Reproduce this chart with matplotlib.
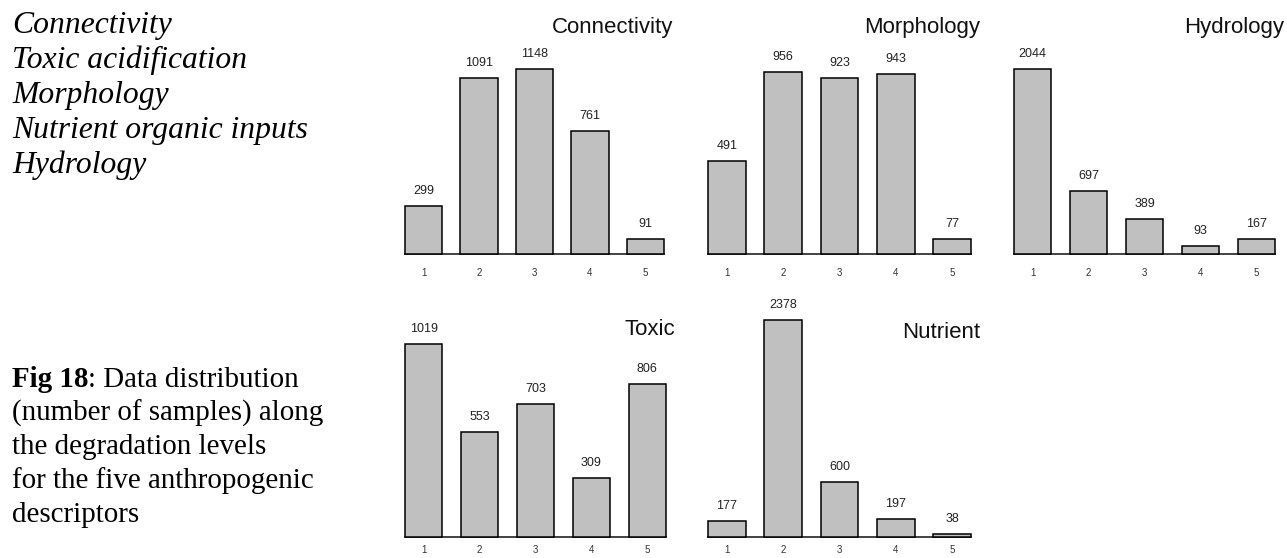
import matplotlib
matplotlib.use("Agg")
import matplotlib.pyplot as plt

# degradation levels and sample counts per descriptor
levels = [1, 2, 3, 4, 5]
connectivity = [299, 1091, 1148, 761, 91]
morphology = [491, 956, 923, 943, 77]
hydrology = [2044, 697, 389, 93, 167]
toxic = [1019, 553, 703, 309, 806]
nutrient = [177, 2378, 600, 197, 38]

panel_titles = ["Connectivity", "Morphology", "Hydrology", "Toxic", "Nutrient"]
panel_values = [connectivity, morphology, hydrology, toxic, nutrient]

legend_lines = ["Connectivity", "Toxic acidification", "Morphology",
                "Nutrient organic inputs", "Hydrology"]
caption_bold = "Fig 18"
caption_lines = [": Data distribution", "(number of samples) along",
                 "the degradation levels", "for the five anthropogenic",
                 "descriptors"]

W, H = 1287, 558
fig = plt.figure(figsize=(W / 100, H / 100), dpi=100)
fig.patch.set_facecolor("white")

# panel boxes in pixels: left, right, top of tallest bar, baseline, title baseline, tick pad
boxes = [
    (405, 664, 69, 254, 33, 10),
    (708, 971, 72, 254, 33, 10),
    (1014, 1275, 69, 254, 33, 10),
    (405, 666, 344, 537, 335, 5.5),
    (708, 971, 320, 537, 338, 5.5),
]

bar_w = 0.667
for title, vals, (l, r, top, base, ty, pad) in zip(panel_titles, panel_values, boxes):
    ax = fig.add_axes([l / W, (H - base) / H, (r - l) / W, (base - top) / H])
    ax.bar(levels, vals, width=bar_w, color="#c0c0c0", edgecolor="black",
           linewidth=1.1, clip_on=False, zorder=3)
    ax.set_xlim(1 - bar_w / 2, 5 + bar_w / 2)
    ax.set_ylim(0, max(vals))
    for x, v in zip(levels, vals):
        ax.annotate(str(v), (x, v), xytext=(0, 12), textcoords="offset pixels",
                    ha="center", va="baseline", fontsize=9, color="#222222",
                    family="Liberation Sans", annotation_clip=False)
    for s in ["top", "left", "right"]:
        ax.spines[s].set_visible(False)
    ax.spines["bottom"].set_linewidth(1.2)
    ax.spines["bottom"].set_color("#222222")
    ax.set_yticks([])
    ax.set_xticks(levels)
    ax.set_xticklabels([str(v) for v in levels], fontsize=7, color="#333333",
                       family="Liberation Sans")
    ax.tick_params(axis="x", length=0, pad=pad)
    ax.patch.set_alpha(0)
    fig.text((r + 9) / W, 1 - ty / H, title, ha="right", va="baseline",
             fontsize=16, family="Liberation Sans", color="#111111")

# descriptor list, top left
for i, line in enumerate(legend_lines):
    fig.text(12 / W, 1 - (33 + 35 * i) / H, line, ha="left", va="baseline",
             fontsize=22.8, style="italic", family="Liberation Serif")

# caption, bottom left
t = fig.text(12 / W, 1 - 387 / H, caption_bold, ha="left", va="baseline",
             fontsize=20.9, weight="bold", family="Liberation Serif")
fig.canvas.draw()
bb = t.get_window_extent(renderer=fig.canvas.get_renderer())
fig.text(bb.x1 / W, 1 - 387 / H, caption_lines[0], ha="left", va="baseline",
         fontsize=20.9, family="Liberation Serif")
for i, line in enumerate(caption_lines[1:], start=1):
    fig.text(12 / W, 1 - (387 + 33.75 * i) / H, line, ha="left", va="baseline",
             fontsize=20.9, family="Liberation Serif")

fig.savefig("out.png", dpi=100)
